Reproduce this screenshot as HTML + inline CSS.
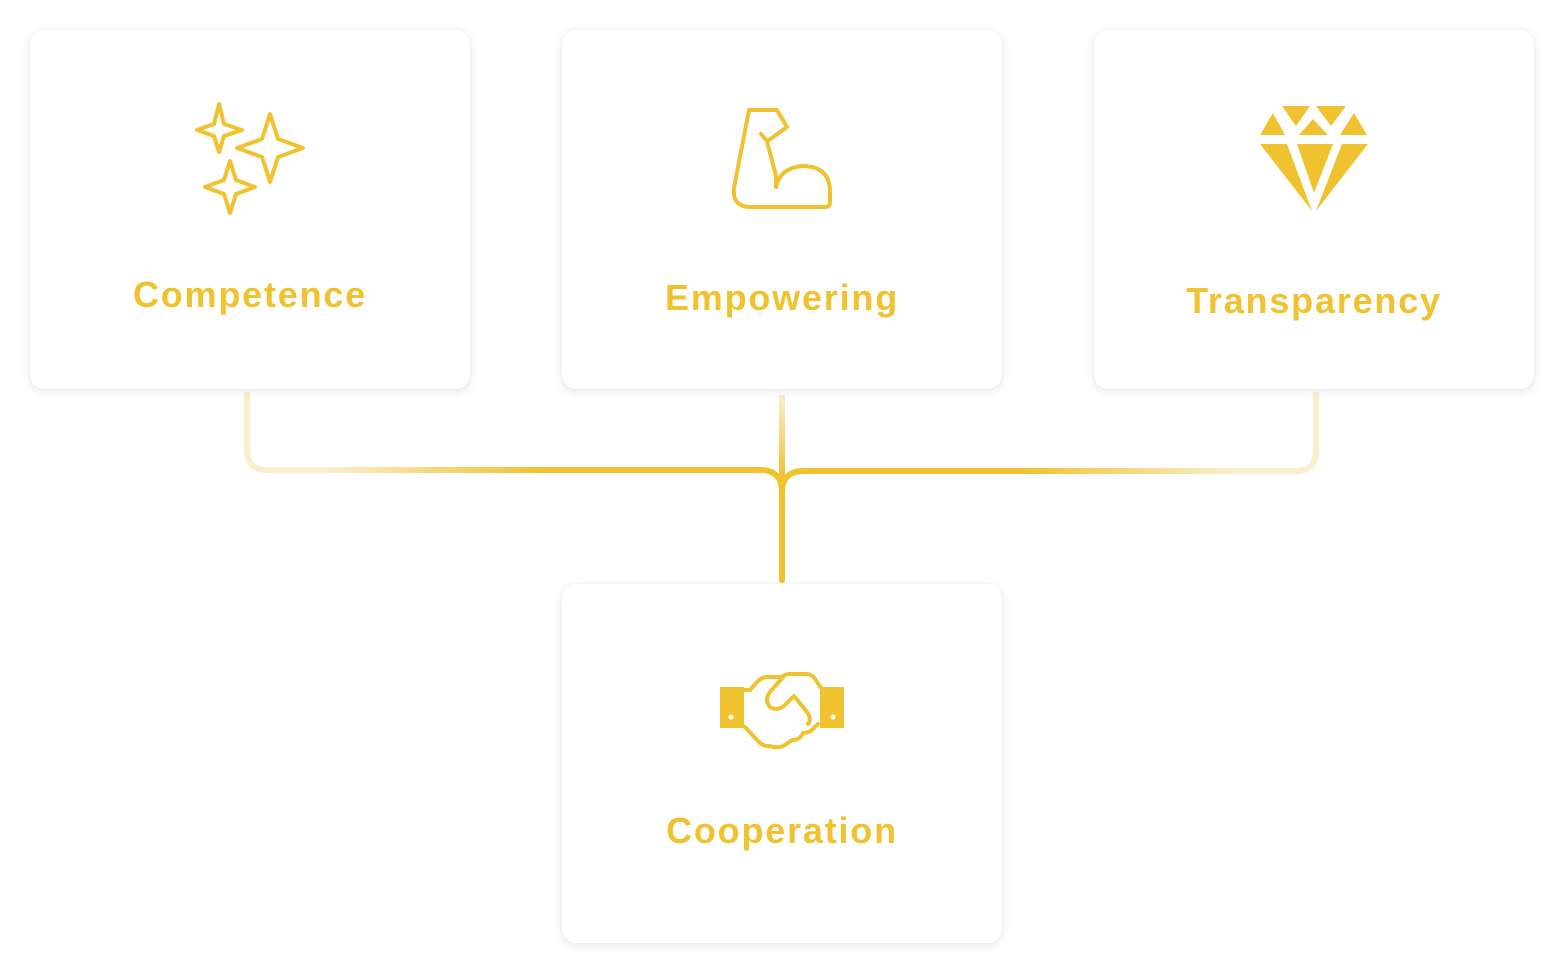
<!DOCTYPE html>
<html><head><meta charset="utf-8"><style>
html,body{margin:0;padding:0;background:#fff;width:1564px;height:974px;overflow:hidden;position:relative;font-family:"Liberation Sans",sans-serif}
.card{position:absolute;width:440px;height:359px;background:#fff;border-radius:14px;box-shadow:0 2px 10px rgba(0,0,0,0.1),0 0 2px rgba(0,0,0,0.05)}
.lbl{position:absolute;left:0;width:100%;text-align:center;color:#F0C230;font-weight:bold;font-size:36px;letter-spacing:1.8px;line-height:40px}
</style></head><body>
<svg width="1564" height="974" style="position:absolute;left:0;top:0">
<defs>
<linearGradient id="gl" gradientUnits="userSpaceOnUse" x1="247" y1="0" x2="782" y2="0">
<stop offset="0" stop-color="#FAEFCC"/><stop offset="0.15" stop-color="#FAEFCC"/><stop offset="0.55" stop-color="#F0C230"/><stop offset="1" stop-color="#F0C230"/></linearGradient>
<linearGradient id="gr" gradientUnits="userSpaceOnUse" x1="1316" y1="0" x2="782" y2="0">
<stop offset="0" stop-color="#FAEFCC"/><stop offset="0.15" stop-color="#FAEFCC"/><stop offset="0.55" stop-color="#F0C230"/><stop offset="1" stop-color="#F0C230"/></linearGradient>
<linearGradient id="gm" gradientUnits="userSpaceOnUse" x1="0" y1="395" x2="0" y2="478">
<stop offset="0" stop-color="#FAEFCC"/><stop offset="1" stop-color="#F0C230"/></linearGradient>
</defs>
<path d="M247 392 V450 Q247 470 267 470 H760 Q782 470 782 492" fill="none" stroke="url(#gl)" stroke-width="6"/>
<path d="M1316 392 V451 Q1316 471 1296 471 H804 Q782 471 782 492" fill="none" stroke="url(#gr)" stroke-width="6"/>
<path d="M782 395 V478" fill="none" stroke="url(#gm)" stroke-width="6"/>
<path d="M782 488 V580" fill="none" stroke="#F0C230" stroke-width="6" stroke-linecap="round"/>
</svg>
<div class="card" style="left:30px;top:30px"><div class="lbl" style="top:245px">Competence</div></div>
<div class="card" style="left:562px;top:30px"><div class="lbl" style="top:248px">Empowering</div></div>
<div class="card" style="left:1094px;top:30px"><div class="lbl" style="top:251px">Transparency</div></div>
<div class="card" style="left:562px;top:584px"><div class="lbl" style="top:227px">Cooperation</div></div>
<svg width="1564" height="974" style="position:absolute;left:0;top:0" fill="none" stroke="#F0C230" stroke-width="4" stroke-linejoin="round" stroke-linecap="round">
<path d="M219 104 L224 124 L242 130 L224 136 L219 152 L214 136 L197 130 L214 124 Z"/>
<path d="M270 114 L278 139 L303 148 L278 157 L270 182 L262 157 L237 148 L262 139 Z"/>
<path d="M230 161 L236 180 L255 187 L236 194 L230 213 L224 194 L205 187 L224 180 Z"/>
<path d="M749 110 H777 L787 127 L769 140"/>
<path d="M761 134 L767 141 L776 176 V187"/>
<path d="M776 187 Q780 168 802 166 Q830 166 830 192 V202 Q830 207 825 207 H751 Q732 207 734 188 L749 110"/>
<path d="M745 690 H750 L758 681 Q762 677 768 677 H782"/>
<path d="M782 677 Q785 674 790 674 H806 Q812 674 815 679 L821 688"/>
<path d="M784 676 L770 692 Q764 700 770 707 Q778 712 786 704 L794 696 L807 712 Q812 719 808 724"/>
<path d="M818 724 L812 730 Q808 733 803 733 Q800 740 792 740 L785 745 Q778 749 770 746 Q763 747 757 740 L745 727"/>
</svg>
<svg width="1564" height="974" style="position:absolute;left:0;top:0" fill="#F0C230">
<rect x="720" y="687" width="24" height="41"/><rect x="820" y="687" width="24" height="41"/>
<circle cx="731" cy="717" r="2.5" fill="#fff"/><circle cx="833" cy="717" r="2.5" fill="#fff"/>
<polygon points="1282,106 1310,106 1296,126"/><polygon points="1316,106 1346,106 1331,126"/>
<polygon points="1273,113 1260,135 1285,135"/><polygon points="1313,119 1299,135 1328,135"/><polygon points="1354,113 1340,135 1367,135"/>
<polygon points="1260,144 1287,144 1312,211"/><polygon points="1297,144 1333,144 1314,193"/><polygon points="1342,144 1368,144 1316,211"/>
</svg>
</body></html>
